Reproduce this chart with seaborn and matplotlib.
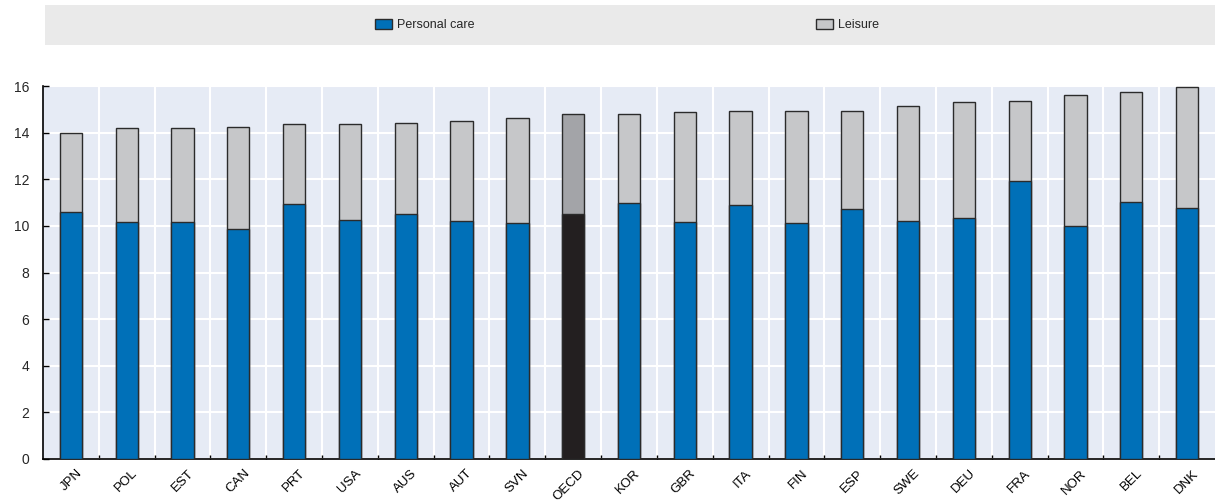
import numpy as np
import pandas as pd
import matplotlib
matplotlib.use("Agg")
import matplotlib.pyplot as plt
import seaborn as sns
from matplotlib.patches import Rectangle, Patch
from matplotlib.ticker import FixedLocator
from matplotlib.transforms import ScaledTranslation

countries = ["JPN", "POL", "EST", "CAN", "PRT", "USA", "AUS", "AUT", "SVN", "OECD", "KOR",
             "GBR", "ITA", "FIN", "ESP", "SWE", "DEU", "FRA", "NOR", "BEL", "DNK"]
personal_care = [10.60, 10.18, 10.18, 9.88, 10.92, 10.24, 10.49, 10.21, 10.11, 10.49, 10.97,
                 10.18, 10.90, 10.14, 10.71, 10.21, 10.35, 11.93, 9.99, 11.03, 10.78]
leisure = [3.38, 4.01, 4.01, 4.34, 3.45, 4.15, 3.94, 4.27, 4.53, 4.33, 3.84,
           4.69, 4.01, 4.77, 4.23, 4.94, 4.98, 3.44, 5.62, 4.70, 5.16]
yticks = [0, 2, 4, 6, 8, 10, 12, 14, 16]

BLUE = "#0070B8"
GREY = "#C6C7C9"
OECD_DARK = "#231F20"
OECD_LIGHT = "#A3A4A8"
EDGE = "#2b2b2b"

df = pd.DataFrame({"country": countries,
                   "personal": personal_care,
                   "leisure": leisure})
df["total"] = df["personal"] + df["leisure"]

sns.set_theme(style="white")
plt.rcParams["font.family"] = ["Liberation Sans", "DejaVu Sans"]

fig = plt.figure(figsize=(12.15, 5.01), dpi=100)
ax = fig.add_axes([43/1215, 1-459/501, 1-43/1215, (459-86)/501])
ax.set_facecolor("#E6EBF5")

pal_total = {c: (OECD_LIGHT if c == "OECD" else GREY) for c in countries}
pal_pc = {c: (OECD_DARK if c == "OECD" else BLUE) for c in countries}

sns.barplot(data=df, x="country", y="total", hue="country", palette=pal_total,
            order=countries, width=0.4, edgecolor=EDGE, linewidth=1.0, saturation=1,
            legend=False, ax=ax, zorder=3)
sns.barplot(data=df, x="country", y="personal", hue="country", palette=pal_pc,
            order=countries, width=0.4, edgecolor=EDGE, linewidth=1.0, saturation=1,
            legend=False, ax=ax, zorder=3)

ax.set_xlim(-0.5, len(countries) - 0.5)
ax.set_ylim(0, 16)
ax.set_yticks(yticks)
ax.set_xlabel("")
ax.set_ylabel("")

ax.xaxis.set_minor_locator(FixedLocator(np.arange(len(countries) - 1) + 0.5))
ax.grid(False)
ax.yaxis.grid(True, color="white", linewidth=1.5, zorder=0)
ax.xaxis.grid(True, which="minor", color="white", linewidth=1.5, zorder=0)
ax.set_axisbelow(True)

for s in ["top", "right"]:
    ax.spines[s].set_visible(False)
for s in ["left", "bottom"]:
    ax.spines[s].set_visible(True)
    ax.spines[s].set_color("black")
    ax.spines[s].set_linewidth(1.2)

ax.tick_params(axis="x", which="major", length=0, pad=6, labelsize=9.5, colors="black")
ax.tick_params(axis="x", which="minor", length=3, direction="in", width=1, color="black", bottom=True)
ax.tick_params(axis="y", which="major", length=4, direction="in", width=1, color="black",
               labelsize=10, pad=10, left=True)
offset = ScaledTranslation(5/100, 0, fig.dpi_scale_trans)
for lbl in ax.get_xticklabels():
    lbl.set_rotation(45)
    lbl.set_ha("right")
    lbl.set_rotation_mode("anchor")
    lbl.set_transform(lbl.get_transform() + offset)

# legend band
fig.patches.append(Rectangle((45/1215, 1-45/501), 1-45/1215, 40/501,
                             transform=fig.transFigure, facecolor="#EAEAEA",
                             edgecolor="none", zorder=0))
handles = [Patch(facecolor=BLUE, edgecolor=EDGE, linewidth=1.0, label="Personal care"),
           Patch(facecolor=GREY, edgecolor=EDGE, linewidth=1.0, label="Leisure")]
fig.legend(handles=handles, loc="center", bbox_to_anchor=(0.516, 1-25/501), ncol=2,
           frameon=False, fontsize=9, handlelength=1.4, handleheight=0.9,
           handletextpad=0.4, columnspacing=27.3)

fig.savefig("out.png", dpi=100)
